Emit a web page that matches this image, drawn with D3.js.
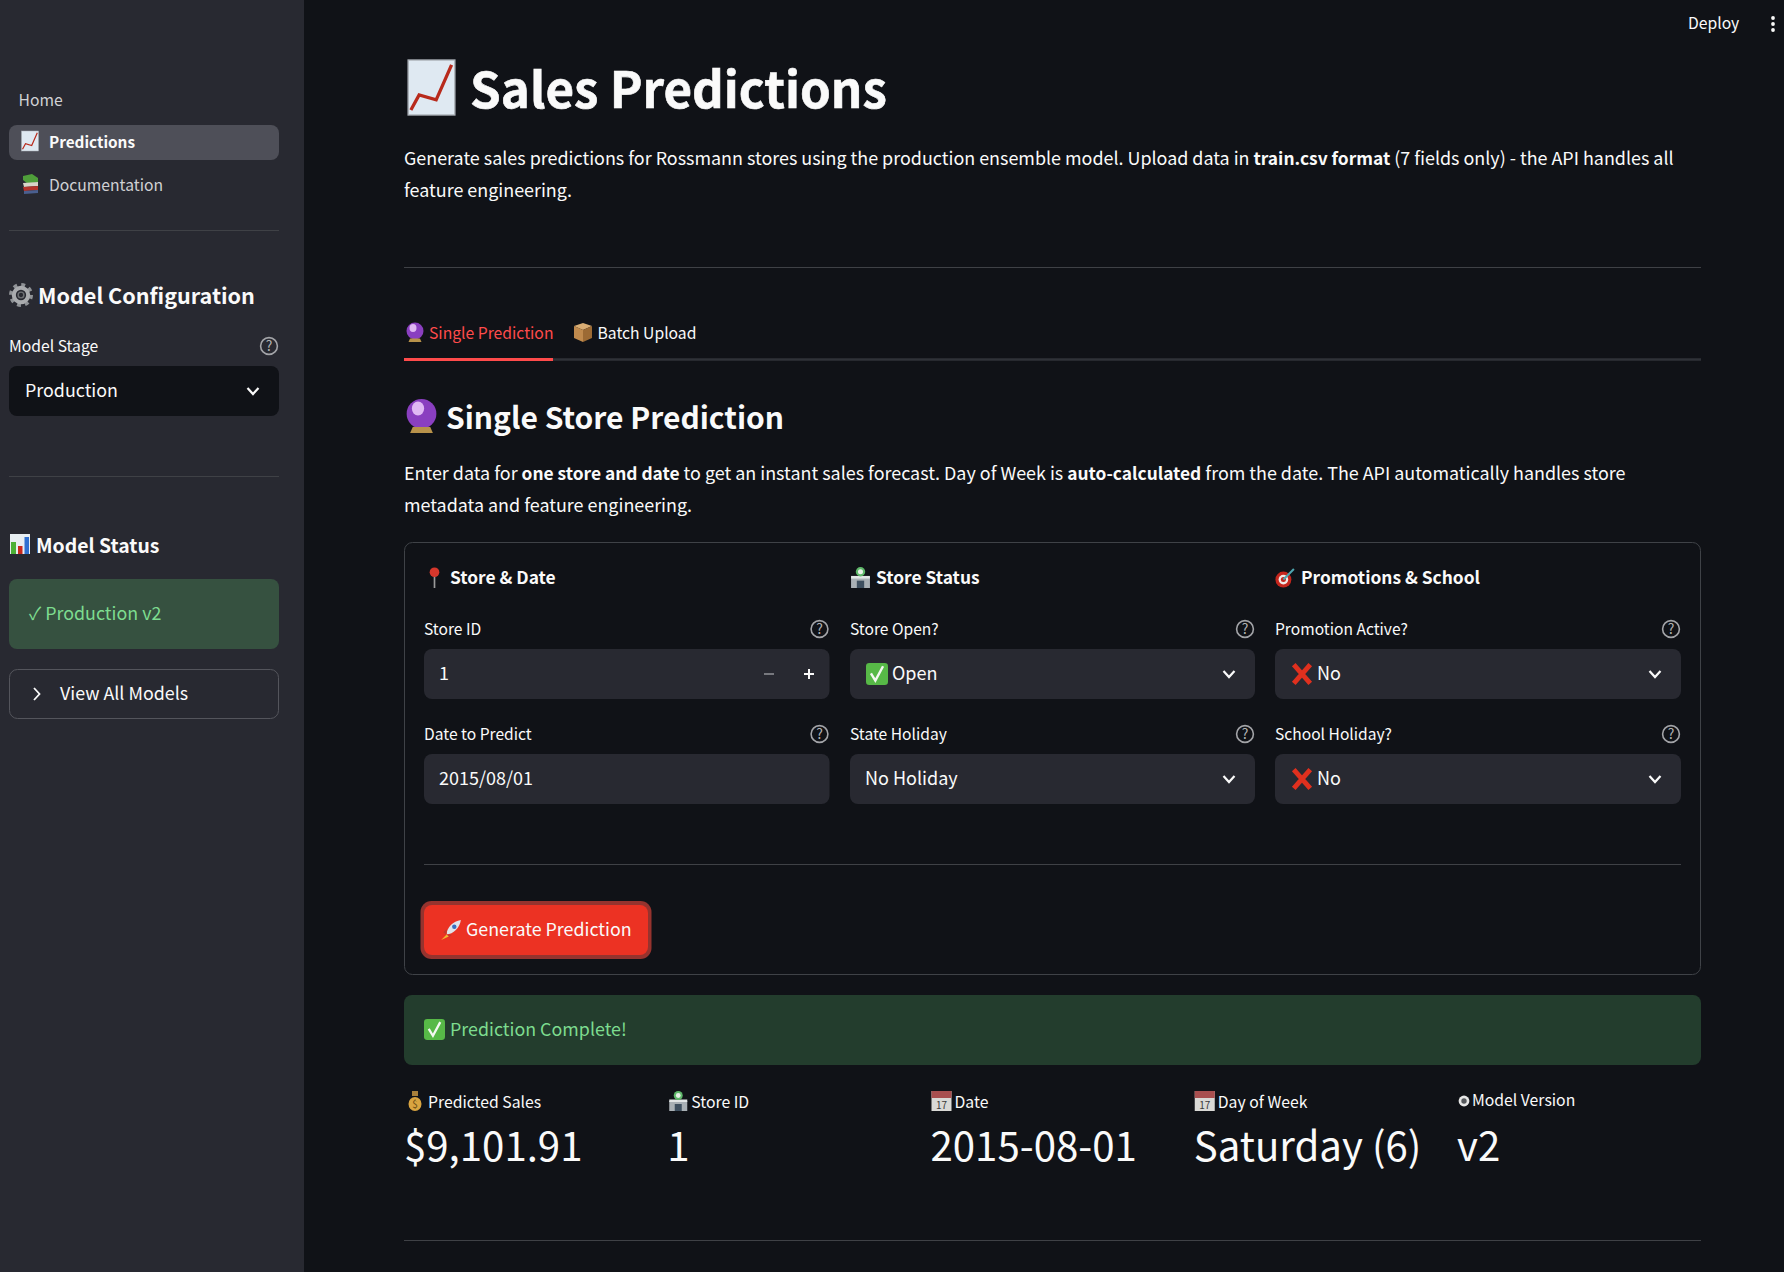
<!DOCTYPE html>
<html>
<head>
<meta charset="utf-8">
<script src="https://cdn.jsdelivr.net/npm/d3@7"></script>
<style>
html, body { margin: 0; padding: 0; background: #101217; overflow: hidden; }
svg { display: block; }
text { font-family: "Noto Sans CJK SC", "Noto Sans", sans-serif; fill: #fafafa; }
</style>
</head>
<body>
<div id="app"></div>
<script>
// Content

var navItems = ["Predictions", "Documentation"];
var navIcons = ["chart", "books"];
var introLines = [
	[["Generate sales predictions for Rossmann stores using the production ensemble model. Upload data in ", 0], ["train.csv format", 1], [" (7 fields only) - the API handles all", 0]],
	[["feature engineering.", 0]]
];
var detailLines = [
	[["Enter data for ", 0], ["one store and date", 1], [" to get an instant sales forecast. Day of Week is ", 0], ["auto-calculated", 1], [" from the date. The API automatically handles store", 0]],
	[["metadata and feature engineering.", 0]]
];
var columnTitles = ["Store & Date", "Store Status", "Promotions & School"];
var columnIcons = ["pin", "store", "dart"];
var fieldLabels = [["Store ID", "Date to Predict"], ["Store Open?", "State Holiday"], ["Promotion Active?", "School Holiday?"]];
var fieldValues = [["1", "2015/08/01"], ["Open", "No Holiday"], ["No", "No"]];
var fieldIcons = [[null, null], ["check", null], ["cross", "cross"]];
var metricLabels = ["Predicted Sales", "Store ID", "Date", "Day of Week", "Model Version"];
var metricValues = ["$9,101.91", "1", "2015-08-01", "Saturday (6)", "v2"];
var metricIcons = ["bag", "store", "calendar", "calendar", "dot"];

var width = 1784, height = 1272;
var lineColor = "#3f4146";
var bodySize = 17.85, smallSize = 15.7;

var svg = d3.select("#app").append("svg").attr("width", width).attr("height", height);

var metricX = d3.scaleLinear().domain([0, 4]).range([405, 1458]);
var colLeft = [424, 850, 1275];
var colRight = [829.5, 1255, 1681];
var rowTop = [649, 754];

// Helpers

function label(x, cy, str, size, opts) {
	opts = opts || {};
	return svg.append("text")
		.attr("x", x)
		.attr("y", cy + size * 0.35)
		.attr("font-size", size)
		.attr("font-weight", opts.weight || 400)
		.style("fill", opts.color || "#fafafa")
		.text(str);
}

function runs(x, cy, parts) {
	var t = svg.append("text").attr("x", x).attr("y", cy + bodySize * 0.35);
	parts.forEach(function(p) {
		t.append("tspan")
			.attr("font-size", p[1] ? 17.35 : 17.92)
			.attr("font-weight", p[1] ? 700 : 400)
			.text(p[0]);
	});
}

function box(x, y, w, h, r, fill, stroke) {
	return svg.append("rect").attr("x", x).attr("y", y).attr("width", w).attr("height", h)
		.attr("rx", r).attr("fill", fill).attr("stroke", stroke || "none");
}

function rule(x1, x2, y, color, sw) {
	svg.append("line").attr("x1", x1).attr("x2", x2).attr("y1", y).attr("y2", y)
		.attr("stroke", color || lineColor).attr("stroke-width", sw || 1);
}

function chevron(cx, cy) {
	svg.append("path").attr("d", d3.line()([[cx - 5.5, cy - 3], [cx, cy + 3], [cx + 5.5, cy - 3]]))
		.attr("fill", "none").attr("stroke", "#fafafa").attr("stroke-width", 2.2);
}

function helpIcon(cx, cy) {
	svg.append("circle").attr("cx", cx).attr("cy", cy).attr("r", 8.4)
		.attr("fill", "none").attr("stroke", "#a3a4a8").attr("stroke-width", 1.6);
	svg.append("text").attr("x", cx).attr("y", cy + 5).attr("text-anchor", "middle")
		.attr("font-size", 14).style("fill", "#b0b1b4").text("?");
}

// icons are drawn in a 20x20 box
var icons = {
	chart: function(g) {
		g.append("rect").attr("x", 1.5).attr("width", 17).attr("height", 20).attr("fill", "#dfe9f2").attr("stroke", "#aab0b6").attr("stroke-width", 0.5);
		g.append("path").attr("d", "M2.5 18.2 L5.5 12.7 L11.7 14.5 L17.3 1.8").attr("fill", "none").attr("stroke", "#b82a1c").attr("stroke-width", 1.2);
	},
	bars: function(g) {
		g.append("rect").attr("width", 20).attr("height", 20).attr("fill", "#e8eef2");
		g.append("rect").attr("x", 1).attr("y", 8).attr("width", 5).attr("height", 12).attr("fill", "#4cb035");
		g.append("rect").attr("x", 8).attr("y", 12).attr("width", 4.5).attr("height", 8).attr("fill", "#c9281c");
		g.append("rect").attr("x", 14.5).attr("y", 3).attr("width", 4.5).attr("height", 17).attr("fill", "#2f6fd0");
	},
	books: function(g) {
		g.append("path").attr("d", "M3 2 L12 0 L18 4 L18 8 L8 10 L3 6Z").attr("fill", "#4f9e3a");
		g.append("path").attr("d", "M3 9 L18 8 L18 12 L4 13Z").attr("fill", "#d8d4c8");
		g.append("path").attr("d", "M3 13 L18 12 L18 16 L4 17Z").attr("fill", "#b5342b");
		g.append("path").attr("d", "M4 17 L18 16 L18 19 L4 20Z").attr("fill", "#4a5f8f");
	},
	gear: function(g) {
		g.append("circle").attr("cx", 10).attr("cy", 10).attr("r", 8.5).attr("fill", "none").attr("stroke", "#8f9296").attr("stroke-width", 3).attr("stroke-dasharray", "3.2 3.47");
		g.append("circle").attr("cx", 10).attr("cy", 10).attr("r", 6).attr("fill", "none").attr("stroke", "#a9abae").attr("stroke-width", 3.4);
		g.append("circle").attr("cx", 10).attr("cy", 10).attr("r", 2.4).attr("fill", "none").attr("stroke", "#6d7074").attr("stroke-width", 1.2);
	},
	ball: function(g) {
		g.append("circle").attr("cx", 10).attr("cy", 9).attr("r", 8.5).attr("fill", "#8a3fc0");
		g.append("ellipse").attr("cx", 8).attr("cy", 6).attr("rx", 3.5).attr("ry", 4).attr("fill", "#e0b8f4");
		g.append("path").attr("d", "M5 16.5 L15 16.5 L16.5 20 L3.5 20Z").attr("fill", "#b8924a");
	},
	box: function(g) {
		g.append("path").attr("d", "M10 1 L19 4 L10 8 L1 4Z").attr("fill", "#d9ad74");
		g.append("path").attr("d", "M1 4 L10 8 L10 20 L1 16Z").attr("fill", "#c08a4d");
		g.append("path").attr("d", "M19 4 L10 8 L10 20 L19 16Z").attr("fill", "#9c6a34");
	},
	pin: function(g) {
		g.append("rect").attr("x", 9.2).attr("y", 7).attr("width", 1.6).attr("height", 13).attr("fill", "#9a9a9a");
		g.append("circle").attr("cx", 10).attr("cy", 5).attr("r", 4.6).attr("fill", "#d6372c");
	},
	store: function(g) {
		g.append("rect").attr("x", 1).attr("y", 10).attr("width", 18).attr("height", 10).attr("fill", "#a9b0b5");
		g.append("rect").attr("x", 6.5).attr("y", 13).attr("width", 7).attr("height", 7).attr("fill", "#3e4f5f");
		g.append("rect").attr("x", 1).attr("y", 8.5).attr("width", 18).attr("height", 2.5).attr("fill", "#e2e5e6");
		g.append("circle").attr("cx", 10).attr("cy", 4.5).attr("r", 4.5).attr("fill", "#5fb86a");
		g.append("circle").attr("cx", 10).attr("cy", 4.5).attr("r", 2.4).attr("fill", "#e8efe8");
	},
	dart: function(g) {
		g.append("circle").attr("cx", 8).attr("cy", 12).attr("r", 7.6).attr("fill", "#c4261d");
		g.append("circle").attr("cx", 8).attr("cy", 12).attr("r", 4.6).attr("fill", "#f2e9e6");
		g.append("circle").attr("cx", 8).attr("cy", 12).attr("r", 2.4).attr("fill", "#c4261d");
		g.append("path").attr("d", "M8 12 L18 2").attr("stroke", "#4fa6b0").attr("stroke-width", 2);
	},
	check: function(g) {
		g.append("rect").attr("width", 20).attr("height", 20).attr("rx", 3).attr("fill", "#57b947");
		g.append("path").attr("d", "M4.5 9.5 L8.5 16 L15.5 3").attr("fill", "none").attr("stroke", "#f4f8f2").attr("stroke-width", 2.2);
	},
	cross: function(g) {
		g.append("path").attr("d", "M2.5 1.5 L17.5 18.5 M17.5 1.5 L2.5 18.5").attr("stroke", "#e0301e").attr("stroke-width", 4.4);
	},
	rocket: function(g) {
		g.append("path").attr("d", "M6 14 C6 8 12 2 19 1 C18 8 12 14 6 14Z").attr("fill", "#dfe4ea");
		g.append("path").attr("d", "M6 9 L3 12 L6 14Z M11 14 L8 17 L6 14Z").attr("fill", "#c4382c");
		g.append("circle").attr("cx", 13).attr("cy", 7).attr("r", 2).attr("fill", "#3a6fc0");
		g.append("path").attr("d", "M6 14 L1 19 L8 16Z").attr("fill", "#f2b632");
	},
	bag: function(g) {
		g.append("rect").attr("x", 7).attr("y", 0).attr("width", 6).attr("height", 5).attr("fill", "#a9803a");
		g.append("ellipse").attr("cx", 10).attr("cy", 13).attr("rx", 6.5).attr("ry", 7).attr("fill", "#d9a440");
		g.append("text").attr("x", 10).attr("y", 17).attr("text-anchor", "middle").attr("font-size", 10).style("fill", "#6b4a14").text("$");
	},
	calendar: function(g) {
		g.append("rect").attr("width", 20).attr("height", 20).attr("fill", "#d9d9d6");
		g.append("rect").attr("width", 20).attr("height", 7).attr("fill", "#a84f4f");
		g.append("text").attr("x", 10).attr("y", 18).attr("text-anchor", "middle").attr("font-size", 10).style("fill", "#3b3b3b").text("17");
	},
	dot: function(g) {
		g.append("circle").attr("cx", 10).attr("cy", 10).attr("r", 9).attr("fill", "#e6e6e6");
		g.append("circle").attr("cx", 10).attr("cy", 10).attr("r", 4.5).attr("fill", "#55585c");
	}
};

function icon(name, x, y, size) {
	var g = svg.append("g").attr("transform", "translate(" + x + "," + y + ") scale(" + size / 20 + ")");
	icons[name](g);
}

// Sidebar

box(0, 0, 304, height, 0, "#282931");
label(18.5, 101, "Home", smallSize, { color: "#d0d1d4" });
box(9, 125, 270, 35, 8, "#4e4f58");
navItems.forEach(function(d, i) {
	var cy = i === 0 ? 143 : 186;
	icon(navIcons[i], 20, cy - 12, 20);
	label(49, cy, d, i === 0 ? 15.3 : smallSize, { weight: i === 0 ? 700 : 400, color: i === 0 ? "#fafafa" : "#d0d1d4" });
});
rule(9, 279, 230.5);

icon("gear", 9, 283, 24);
label(38, 296, "Model Configuration", 21.6, { weight: 700 });
label(9, 347, "Model Stage", smallSize);
helpIcon(269, 346);
box(9, 366, 270, 50, 8, "#101217");
label(25, 391, "Production", bodySize);
chevron(253, 391);
rule(9, 279, 476.5);

icon("bars", 10, 534, 20);
label(36, 546, "Model Status", 19.4, { weight: 700 });
box(9, 579, 270, 70, 8, "#365140");
label(29, 614, "\u2713 Production v2", bodySize, { color: "#7ddc8f" });
box(9.5, 669.5, 269, 49, 8, "none", "#54555c");
svg.append("path").attr("d", d3.line()([[34, 688], [39.5, 694], [34, 700]]))
	.attr("fill", "none").attr("stroke", "#fafafa").attr("stroke-width", 1.8);
label(60, 694, "View All Models", bodySize);

// Top bar

label(1688, 24, "Deploy", smallSize);
[18, 24, 30].forEach(function(y) {
	svg.append("circle").attr("cx", 1773).attr("cy", y).attr("r", 1.9).attr("fill", "#fafafa");
});

// Header

icon("chart", 404, 60, 55);
label(470, 91, "Sales Predictions", 49.3, { weight: 700 }).attr("stroke", "#fafafa").attr("stroke-width", 0.6);
introLines.forEach(function(parts, i) {
	runs(404, 158.5 + i * 32, parts);
});
rule(404, 1701, 267.5);

// Tabs

icon("ball", 405, 322, 20);
label(429, 334, "Single Prediction", smallSize, { color: "#ff4b4b" });
icon("box", 573, 322, 20);
label(597.5, 334, "Batch Upload", smallSize);
rule(404, 1701, 359.5, "#2f3238", 2.5);
rule(404, 553, 359.5, "#ff4b4b", 3);

// Form

icon("ball", 404, 398, 35);
label(446, 418.5, "Single Store Prediction", 30, { weight: 700 });
detailLines.forEach(function(parts, i) {
	runs(404, 474 + i * 32, parts);
});

box(404.5, 542.5, 1296, 432, 8, "none", "#3f4247");

columnTitles.forEach(function(d, c) {
	icon(columnIcons[c], colLeft[c], 567, 21);
	label(colLeft[c] + 26, 578, d, 17.35, { weight: 700 });

	fieldLabels[c].forEach(function(f, r) {
		var top = rowTop[r];
		var w = colRight[c] - colLeft[c];
		label(colLeft[c], top - 19, f, 15.6);
		helpIcon(colRight[c] - 10, top - 20);
		box(colLeft[c], top, w, 50, 8, "#282931");

		var ic = fieldIcons[c][r];
		var tx = colLeft[c] + 15;
		if (ic) {
			icon(ic, colLeft[c] + 16, top + 14, 22);
			tx = colLeft[c] + 42;
		}
		label(tx, top + 24.5, fieldValues[c][r], 18);
		if (c > 0) chevron(colRight[c] - 26, top + 25);
	});
});

// number input steppers
rule(764, 774, 674, "#77787e", 2);
rule(804, 814, 674, "#fafafa", 2);
svg.append("line").attr("x1", 809).attr("x2", 809).attr("y1", 669).attr("y2", 679)
	.attr("stroke", "#fafafa").attr("stroke-width", 2);

rule(424, 1681, 864.5);

box(420.5, 901, 231, 58, 11, "#96332e");
box(424, 905, 224, 50, 8, "#ec3223");
icon("rocket", 440, 919, 22);
label(466, 929.5, "Generate Prediction", bodySize);

// Result

box(404, 995, 1297, 70, 8, "#233d2d");
icon("check", 424, 1019, 21);
label(450, 1030, "Prediction Complete!", bodySize, { color: "#7ddc8f" });

metricLabels.forEach(function(d, i) {
	var x = metricX(i);
	var small = metricIcons[i] === "dot";
	icon(metricIcons[i], x, small ? 1095 : 1091, small ? 12 : 20);
	label(x + (small ? 14 : 23), small ? 1100 : 1102, d, 15.75);
	label(x - 1, 1147, metricValues[i], 40.2);
});

rule(404, 1701, 1240.5);
</script>
</body>
</html>
